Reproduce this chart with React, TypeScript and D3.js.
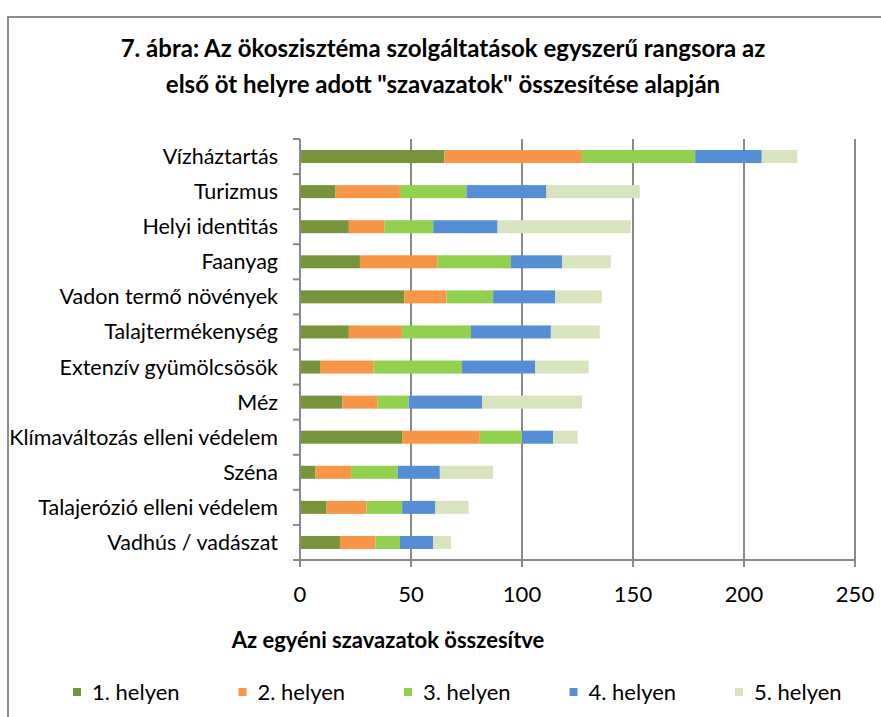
import React from "react";
import * as d3 from "d3";

const categories = [
  "Vízháztartás",
  "Turizmus",
  "Helyi identitás",
  "Faanyag",
  "Vadon termő növények",
  "Talajtermékenység",
  "Extenzív gyümölcsösök",
  "Méz",
  "Klímaváltozás elleni védelem",
  "Széna",
  "Talajerózió elleni védelem",
  "Vadhús / vadászat",
];

const seriesNames = ["1. helyen", "2. helyen", "3. helyen", "4. helyen", "5. helyen"];
const place1 = [65, 16, 22, 27, 47, 22, 9, 19, 46, 7, 12, 18];
const place2 = [62, 29, 16, 35, 19, 24, 24, 16, 35, 16, 18, 16];
const place3 = [51, 30, 22, 33, 21, 31, 40, 14, 19, 21, 16, 11];
const place4 = [30, 36, 29, 23, 28, 36, 33, 33, 14, 19, 15, 15];
const place5 = [16, 42, 60, 22, 21, 22, 24, 45, 11, 24, 15, 8];
const xTicks = [0, 50, 100, 150, 200, 250];
const colors = ["#77933C", "#F79646", "#92D050", "#558ED5", "#D7E4BD"];

const titleLines = [
  "7. ábra: Az ökoszisztéma szolgáltatások egyszerű rangsora az",
  'első öt helyre adott "szavazatok" összesítése alapján',
];
const axisTitle = "Az egyéni szavazatok összesítve";

const W = 881;
const H = 717;
const FONT = "Lato, 'Open Sans', sans-serif";
const GRID = "#8A8A8A";

export default function App() {
  const x = d3.scaleLinear().domain([0, 250]).range([300, 855]);
  const y = d3.scaleBand<string>().domain(categories).range([139, 560]).padding(0);
  const barH = 13;

  const rows = categories.map((c, i) => {
    const o: any = { cat: c };
    o[seriesNames[0]] = place1[i];
    o[seriesNames[1]] = place2[i];
    o[seriesNames[2]] = place3[i];
    o[seriesNames[3]] = place4[i];
    o[seriesNames[4]] = place5[i];
    return o;
  });
  const stack = d3.stack<any>().keys(seriesNames)(rows);

  const boundaries = categories.map((c) => y(c) as number).concat([560]);

  return (
    <svg
      width={W}
      height={H}
      style={{ position: "absolute", left: 0, top: 0, background: "#fff" }}
      fontFamily={FONT}
    >
      <rect x={0} y={0} width={W} height={H} fill="#fff" />
      <rect x={8} y={17} width={W + 20} height={H + 20} fill="none" stroke="#8C8C8C" strokeWidth={2} />

      {titleLines.map((t, i) => (
        <text
          key={i}
          x={443}
          y={57 + i * 36}
          textAnchor="middle"
          fontSize={24}
          fontWeight="bold"
          fill="#000"
        >
          {t}
        </text>
      ))}

      {/* gridlines */}
      {xTicks.slice(1).map((t) => (
        <line key={t} x1={x(t)} x2={x(t)} y1={139} y2={560} stroke={GRID} strokeWidth={2} />
      ))}

      {/* bars */}
      {stack.map((s, si) => (
        <g key={si} fill={colors[si]}>
          {s.map((d, i) => (
            <rect
              key={i}
              x={x(d[0])}
              y={(y(categories[i]) as number) + y.bandwidth() / 2 - barH / 2}
              width={x(d[1]) - x(d[0])}
              height={barH}
            />
          ))}
        </g>
      ))}

      {/* axes */}
      <line x1={x(0)} x2={x(0)} y1={139} y2={561} stroke={GRID} strokeWidth={2} />
      <line x1={293} x2={856} y1={560} y2={560} stroke={GRID} strokeWidth={2} />
      {boundaries.map((b, i) => (
        <line key={i} x1={293} x2={300} y1={b} y2={b} stroke={GRID} strokeWidth={2} />
      ))}
      {xTicks.map((t) => (
        <line key={t} x1={x(t)} x2={x(t)} y1={560} y2={567} stroke={GRID} strokeWidth={2} />
      ))}

      {xTicks.map((t) => (
        <text key={t} x={x(t)} y={602} textAnchor="middle" fontSize={22} fill="#000">
          {t}
        </text>
      ))}

      {categories.map((c) => (
        <text
          key={c}
          x={278}
          y={(y(c) as number) + y.bandwidth() / 2 + 7.5}
          textAnchor="end"
          fontSize={21.5}
          fill="#000"
        >
          {c}
        </text>
      ))}

      <text x={388} y={648} textAnchor="middle" fontSize={22} fontWeight="bold" fill="#000">
        {axisTitle}
      </text>

      {seriesNames.map((s, i) => {
        const mx = 73 + i * 165.5;
        return (
          <g key={s}>
            <rect x={mx} y={688} width={8} height={8} fill={colors[i]} />
            <text x={mx + 19} y={700} fontSize={22} fill="#000">
              {s}
            </text>
          </g>
        );
      })}
    </svg>
  );
}
